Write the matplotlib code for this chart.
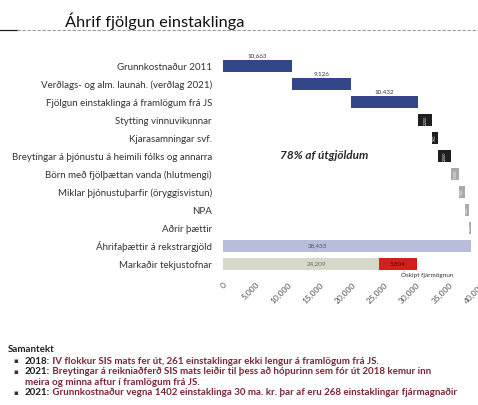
import numpy as np
import matplotlib
matplotlib.use("Agg")
import matplotlib.pyplot as plt
from matplotlib.lines import Line2D

plt.rcParams['font.family'] = ['Lato', 'DejaVu Sans']

# --- gögn ---
categories = [
    "Grunnkostnaður 2011",
    "Verðlags- og alm. launah. (verðlag 2021)",
    "Fjölgun einstaklinga á framlögum frá JS",
    "Stytting vinnuvikunnar",
    "Kjarasamningar svf.",
    "Breytingar á þjónustu á heimili fólks og annarra",
    "Börn með fjölþættan vanda (hlutmengi)",
    "Miklar þjónustuþarfir (öryggisvistun)",
    "NPA",
    "Aðrir þættir",
]
step_values = [10663, 9126, 10432, 2200, 950, 2000, 1150, 950, 650, 312]
step_groups = ["base", "base", "base", "dark", "dark", "dark", "light", "light", "light", "light"]

total_label = "Áhrifaþættir á rekstrargjöld"
market_label = "Markaðir tekjustofnar"
market_value = 24209
market_gap = 5804
gap_text = "Óskipt fjármögnun"
share_text = "78% af útgjöldum"

xticks = [0, 5000, 10000, 15000, 20000, 25000, 30000, 35000, 40000]

summary_title = "Samantekt"
summary_lines = [
    ("2018:", " IV flokkur SIS mats fer út, 261 einstaklingar ekki lengur á framlögum frá JS.", True),
    ("2021:", " Breytingar á reikniaðferð SIS mats leiðir til þess að hópurinn sem fór út 2018 kemur inn", True),
    ("", "meira og minna aftur í framlögum frá JS.", False),
    ("2021:", " Grunnkostnaður vegna 1402 einstaklinga 30 ma. kr. þar af eru 268 einstaklingar fjármagnaðir", True),
]

colors = {"base": "#34468a", "dark": "#1f1f1f", "light": "#aaaaaa"}
total_color = "#b8bddc"
market_color = "#d6d9c8"
gap_color = "#d2201c"


def fmt(v):
    return f"{v:,.0f}"


fig = plt.figure(figsize=(4.78, 4.05), dpi=100)
ax = fig.add_axes([0.4665, 0.326, 0.54, 0.533])

n = len(categories)
rows = np.arange(n + 2)
starts = np.concatenate([[0], np.cumsum(step_values)[:-1]])
total = sum(step_values)
h = 0.68

# fossinn
for i, (s, v, g) in enumerate(zip(starts, step_values, step_groups)):
    ax.barh(i, v, left=s, height=h, color=colors[g], edgecolor='none')
    if g == "base":
        ax.text(s + v / 2, i - h / 2 - 0.08, fmt(v), ha='center', va='bottom',
                fontsize=4.5, color='#333333')
    else:
        ax.text(s + v / 2, i, fmt(v), ha='center', va='center', rotation=90,
                fontsize=2.6, color='white')

# samtals og tekjustofnar
ax.barh(n, total, height=h, color=total_color, edgecolor='none')
ax.text(total * 0.38, n, fmt(total), ha='center', va='center', fontsize=4.5, color='#555555')
ax.barh(n + 1, market_value, height=h, color=market_color, edgecolor='none')
ax.text(market_value * 0.6, n + 1, fmt(market_value), ha='center', va='center',
        fontsize=4.5, color='#666666')
ax.barh(n + 1, market_gap, left=market_value, height=h, color=gap_color, edgecolor='none')
ax.text(market_value + market_gap / 2, n + 1, fmt(market_gap), ha='center', va='center',
        fontsize=4.5, color='#5a0000')
ax.annotate(gap_text, xy=(market_value + market_gap, n + 1 + h / 2), xytext=(-11, -1),
            textcoords='offset points', ha='left', va='top', fontsize=4.6, color='#333333')

ax.text(total * 0.41, 4.95, share_text, ha='center', va='center', fontsize=8.5,
        fontweight='bold', style='italic', color='#2a2a2a')

ax.set_xlim(0, 40000)
ax.set_ylim(n + 1.5, -0.5)
ax.set_yticks(rows)
ax.set_yticklabels(categories + [total_label, market_label], fontsize=7, color='#333333')
ax.set_xticks(xticks)
ax.set_xticklabels([fmt(t) for t in xticks], rotation=45, ha='right', va='top',
                   rotation_mode='anchor', fontsize=6, color='#555555')
ax.tick_params(axis='y', length=0, pad=8)
ax.tick_params(axis='x', length=0, pad=6)
for sp in ax.spines.values():
    sp.set_visible(False)

# titill
fig.text(0.136, 0.933, "Áhrif fjölgun einstaklinga", fontsize=11.8, color='#111111',
         ha='left', va='baseline')
fig.add_artist(Line2D([0.0, 0.035], [0.927, 0.927], color='#222222', lw=0.9))
fig.add_artist(Line2D([0.035, 1.0], [0.927, 0.927], color='#9a9a9a', lw=0.8,
                      linestyle=(0, (3, 1.5))))

# samantekt
fs = 7.0
fig.text(0.017, 0.136, summary_title, fontsize=fs, fontweight='bold', color='#222222',
         va='center')
y = 0.108
for year, rest, bullet in summary_lines:
    if bullet:
        fig.text(0.027, y, "▪", fontsize=5, color='#333333', va='center', family='DejaVu Sans')
        t = fig.text(0.052, y, year, fontsize=fs, fontweight='bold', color='#1c1c1c', va='center')
        ax.annotate(rest, xy=(1, 0), xycoords=t, va='bottom', ha='left', fontsize=fs,
                    fontweight='bold', color='#7a2636', annotation_clip=False)
    else:
        fig.text(0.052, y, rest, fontsize=fs, fontweight='bold', color='#7a2636', va='center')
    y -= 0.026

fig.savefig("out.png", dpi=100)
